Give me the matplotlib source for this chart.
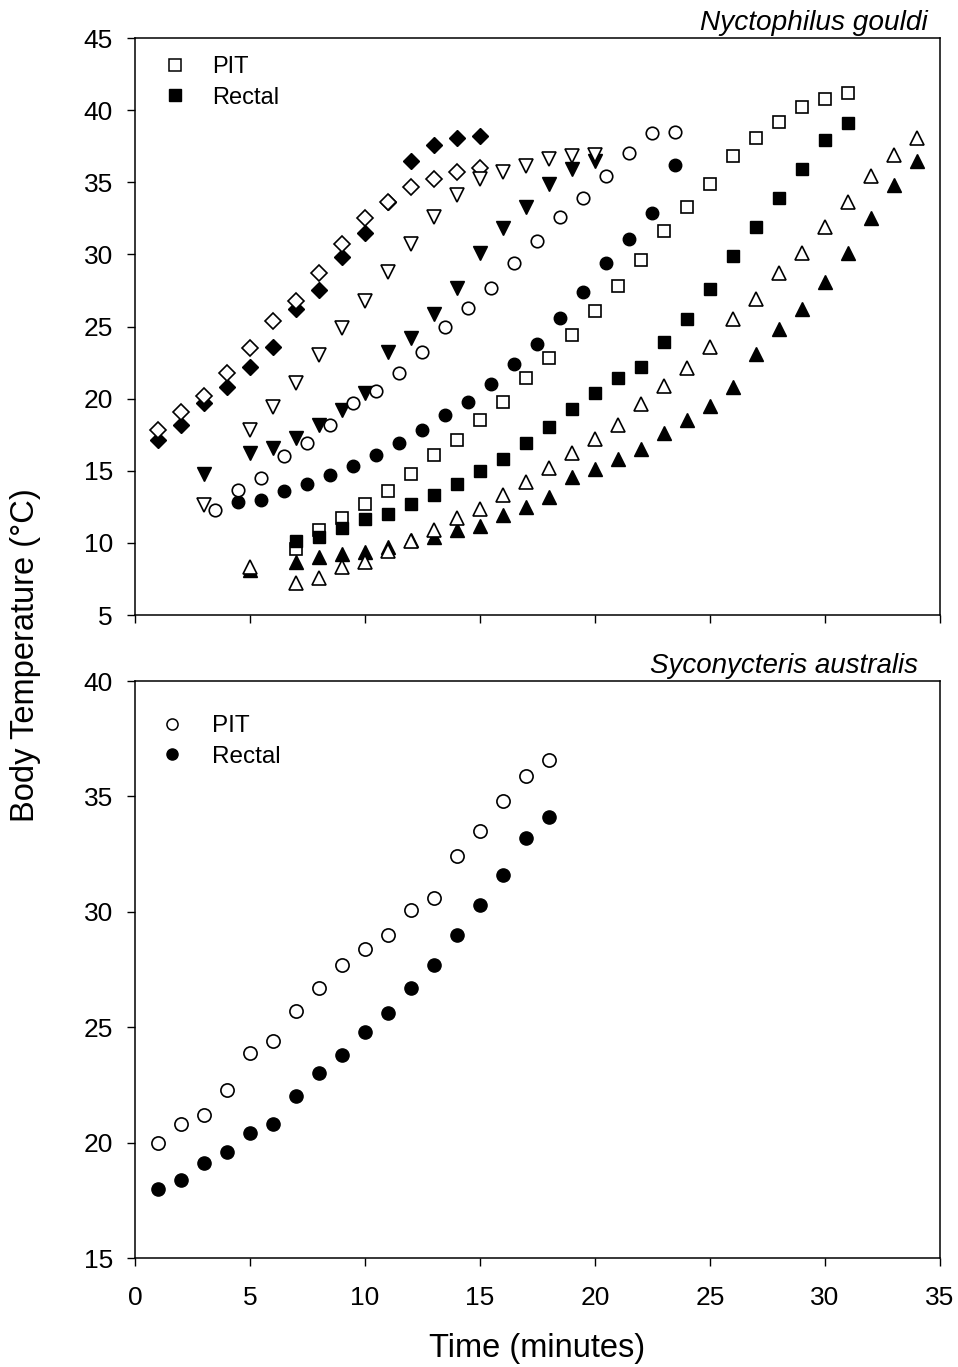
import matplotlib
matplotlib.use("Agg")
import matplotlib.pyplot as plt
from matplotlib.lines import Line2D

plt.rcParams['font.family'] = ['Liberation Sans', 'DejaVu Sans']

# Nyctophilus gouldi: five bats, PIT (open) and rectal (filled) temperatures
diamond_time = [1, 2, 3, 4, 5, 6, 7, 8, 9, 10, 11, 12, 13, 14, 15]
diamond_pit = [17.8, 19.1, 20.2, 21.8, 23.5, 25.4, 26.8, 28.7, 30.7, 32.5, 33.6, 34.7, 35.2, 35.7, 36.0]
diamond_rectal = [17.1, 18.2, 19.7, 20.8, 22.2, 23.6, 26.2, 27.5, 29.8, 31.5, 33.6, 36.5, 37.6, 38.1, 38.2]

vtri_time = [3, 5, 6, 7, 8, 9, 10, 11, 12, 13, 14, 15, 16, 17, 18, 19, 20]
vtri_pit = [12.6, 17.8, 19.4, 21.1, 23.0, 24.9, 26.8, 28.8, 30.7, 32.6, 34.1, 35.2, 35.7, 36.1, 36.6, 36.8, 36.9]
vtri_rectal = [14.8, 16.2, 16.6, 17.3, 18.2, 19.2, 20.4, 23.2, 24.2, 25.9, 27.7, 30.1, 31.8, 33.3, 34.9, 35.9, 36.5]

circ_pit_time = [3.5, 4.5, 5.5, 6.5, 7.5, 8.5, 9.5, 10.5, 11.5, 12.5, 13.5, 14.5, 15.5,
                 16.5, 17.5, 18.5, 19.5, 20.5, 21.5, 22.5, 23.5]
circ_pit = [12.3, 13.7, 14.5, 16.0, 16.9, 18.2, 19.7, 20.5, 21.8, 23.2, 25.0, 26.3, 27.7,
            29.4, 30.9, 32.6, 33.9, 35.4, 37.0, 38.4, 38.5]
circ_rectal_time = [4.5, 5.5, 6.5, 7.5, 8.5, 9.5, 10.5, 11.5, 12.5, 13.5, 14.5, 15.5,
                    16.5, 17.5, 18.5, 19.5, 20.5, 21.5, 22.5, 23.5]
circ_rectal = [12.8, 13.0, 13.6, 14.1, 14.7, 15.3, 16.1, 16.9, 17.8, 18.9, 19.8, 21.0,
               22.4, 23.8, 25.6, 27.4, 29.4, 31.1, 32.9, 36.2]

sq_time = list(range(7, 32))
sq_pit = [9.6, 10.9, 11.7, 12.7, 13.6, 14.8, 16.1, 17.1, 18.5, 19.8, 21.4, 22.8, 24.4,
          26.1, 27.8, 29.6, 31.6, 33.3, 34.9, 36.8, 38.1, 39.2, 40.2, 40.8, 41.2]
sq_rectal = [10.1, 10.4, 11.0, 11.65, 12.0, 12.7, 13.3, 14.1, 15.0, 15.8, 16.9, 18.0, 19.3,
             20.4, 21.4, 22.2, 23.9, 25.5, 27.6, 29.9, 31.9, 33.9, 35.9, 37.9, 39.1]

tri_time = [5] + list(range(7, 35))
tri_pit = [8.3, 7.2, 7.6, 8.3, 8.7, 9.45, 10.1, 10.9, 11.7, 12.35, 13.3, 14.2, 15.2, 16.2,
           17.2, 18.2, 19.6, 20.9, 22.1, 23.6, 25.5, 26.9, 28.7, 30.1, 31.9, 33.6, 35.4, 36.9, 38.1]
tri_rectal = [8.1, 8.7, 9.0, 9.2, 9.4, 9.7, 10.2, 10.4, 10.9, 11.2, 11.9, 12.5, 13.2, 14.6,
              15.1, 15.8, 16.5, 17.6, 18.5, 19.5, 20.8, 23.1, 24.8, 26.2, 28.1, 30.1, 32.5, 34.8, 36.5]

# Syconycteris australis
sa_time = list(range(1, 19))
sa_pit = [20.0, 20.8, 21.2, 22.3, 23.9, 24.4, 25.7, 26.7, 27.7, 28.4, 29.0, 30.1, 30.6,
          32.4, 33.5, 34.8, 35.9, 36.6]
sa_rectal = [18.0, 18.4, 19.1, 19.6, 20.4, 20.8, 22.0, 23.0, 23.8, 24.8, 25.6, 26.7, 27.7,
             29.0, 30.3, 31.6, 33.2, 34.1]

x_ticks = [0, 5, 10, 15, 20, 25, 30, 35]


def open_pts(ax, x, y, marker, ms):
    ax.plot(x, y, linestyle='none', marker=marker, ms=ms, mfc='white',
            mec='black', mew=1.2, zorder=3)


def filled_pts(ax, x, y, marker, ms):
    ax.plot(x, y, linestyle='none', marker=marker, ms=ms, mfc='black',
            mec='black', mew=1.0, zorder=3)


def style_axes(ax):
    for sp in ax.spines.values():
        sp.set_linewidth(1.1)
    ax.tick_params(direction='out', length=6, width=1.0, labelsize=19)
    ax.tick_params(axis='y', pad=10)
    ax.tick_params(axis='x', pad=14)
    ax.set_xlim(0, 35)
    ax.set_xticks(x_ticks)


fig = plt.figure(figsize=(9.58, 13.67), dpi=100)
ax1 = fig.add_axes([0.1409, 0.5501, 0.8403, 0.4221])
ax2 = fig.add_axes([0.1409, 0.0797, 0.8403, 0.4221])

# top panel
filled_pts(ax1, diamond_time, diamond_rectal, 'D', 8.5)
open_pts(ax1, diamond_time, diamond_pit, 'D', 8.5)
filled_pts(ax1, vtri_time, vtri_rectal, 'v', 10)
open_pts(ax1, vtri_time, vtri_pit, 'v', 10)
filled_pts(ax1, circ_rectal_time, circ_rectal, 'o', 9)
open_pts(ax1, circ_pit_time, circ_pit, 'o', 9)
open_pts(ax1, sq_time, sq_pit, 's', 9)
filled_pts(ax1, sq_time, sq_rectal, 's', 9)
filled_pts(ax1, tri_time, tri_rectal, '^', 10)
open_pts(ax1, tri_time, tri_pit, '^', 10)

style_axes(ax1)
ax1.set_ylim(5, 45)
ax1.set_yticks([5, 10, 15, 20, 25, 30, 35, 40, 45])
ax1.set_xticklabels([])
ax1.text(0.985, 1.004, 'Nyctophilus gouldi', transform=ax1.transAxes, ha='right',
         va='bottom', fontsize=20.2, style='italic')

h1 = [Line2D([], [], linestyle='none', marker='s', ms=8, mfc='white', mec='black', mew=1.1),
      Line2D([], [], linestyle='none', marker='s', ms=8, mfc='black', mec='black')]
ax1.legend(h1, ['PIT', 'Rectal'], loc='upper left', bbox_to_anchor=(0.0, 0.997),
           frameon=False, fontsize=17, handletextpad=0.55, labelspacing=0.35,
           borderaxespad=0.3, handlelength=2.0)

# bottom panel
filled_pts(ax2, sa_time, sa_rectal, 'o', 9.5)
open_pts(ax2, sa_time, sa_pit, 'o', 9.5)

style_axes(ax2)
ax2.set_ylim(15, 40)
ax2.set_yticks([15, 20, 25, 30, 35, 40])
ax2.text(0.9727, 1.004, 'Syconycteris australis', transform=ax2.transAxes, ha='right',
         va='bottom', fontsize=20, style='italic')

h2 = [Line2D([], [], linestyle='none', marker='o', ms=8, mfc='white', mec='black', mew=1.1),
      Line2D([], [], linestyle='none', marker='o', ms=8, mfc='black', mec='black')]
ax2.legend(h2, ['PIT', 'Rectal'], loc='upper left', bbox_to_anchor=(-0.005, 0.97),
           frameon=False, fontsize=17.5, handletextpad=0.65, labelspacing=0.35,
           borderaxespad=0.3, handlelength=2.0)

fig.text(0.561, 0.0025, 'Time (minutes)', ha='center', va='bottom', fontsize=23.5)
fig.text(0.027, 0.521, 'Body Temperature (°C)', ha='center', va='center',
         rotation=90, fontsize=23.5)

fig.savefig('out.png', dpi=100)
